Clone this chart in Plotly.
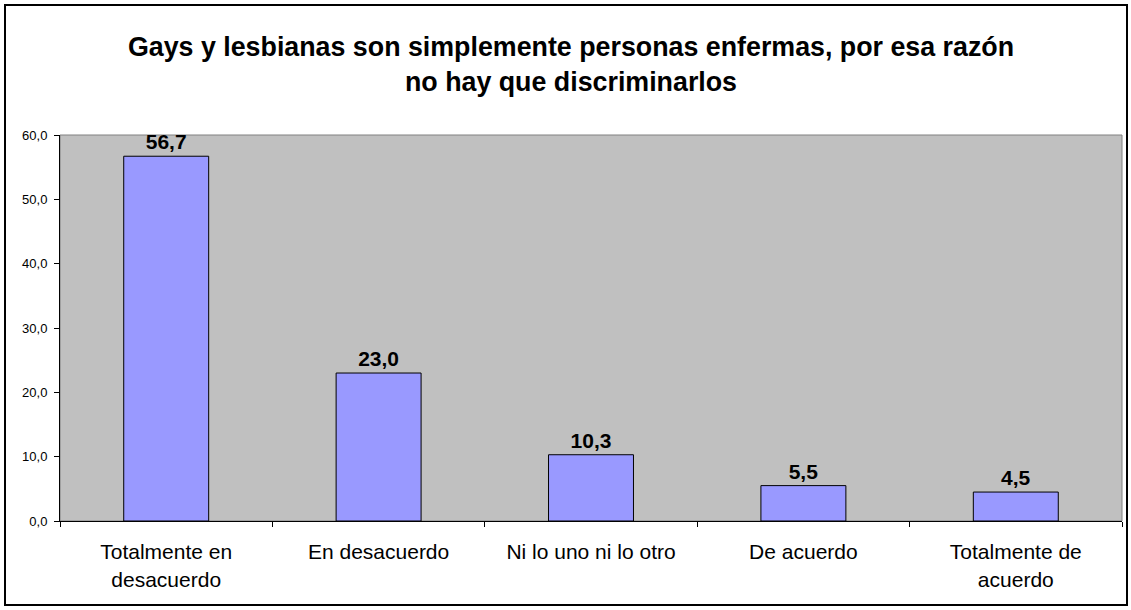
import plotly.graph_objects as go

categories = ["Totalmente en<br>desacuerdo", "En desacuerdo", "Ni lo uno ni lo otro",
              "De acuerdo", "Totalmente de<br>acuerdo"]
values = [56.7, 23.0, 10.3, 5.5, 4.5]
value_labels = ["56,7", "23,0", "10,3", "5,5", "4,5"]
y_tickvals = [0, 10, 20, 30, 40, 50, 60]
y_ticktext = ["0,0", "10,0", "20,0", "30,0", "40,0", "50,0", "60,0"]
title_text = ("Gays y lesbianas son simplemente personas enfermas, por esa razón<br>"
              "no hay que discriminarlos")

fig = go.Figure()
fig.add_trace(go.Bar(
    x=categories, y=values,
    text=value_labels, textposition="outside",
    textfont=dict(family="Liberation Sans, Arial", size=21, color="black", weight="bold"),
    marker=dict(color="#9999FF", line=dict(color="black", width=1)),
    width=0.4, cliponaxis=False,
))

fig.update_layout(
    width=1131, height=610,
    margin=dict(l=60, r=9, t=135, b=89),
    paper_bgcolor="white", plot_bgcolor="#C0C0C0",
    showlegend=False,
    font=dict(family="Liberation Sans, Arial", color="black"),
    title=dict(text="<b>" + title_text + "</b>", x=571 / 1131, xref="container", xanchor="center",
               y=1 - 56 / 610, yref="container", yanchor="middle",
               font=dict(size=26.8, color="black")),
    xaxis=dict(showline=True, linecolor="black", linewidth=1,
               ticks="outside", tickson="boundaries", ticklen=5, tickcolor="black",
               tickfont=dict(size=21), ticklabelstandoff=12, showgrid=False),
    yaxis=dict(range=[0, 60], tickvals=y_tickvals, ticktext=y_ticktext,
               showline=True, linecolor="black", linewidth=1,
               ticks="outside", ticklen=5, tickcolor="black",
               tickfont=dict(size=13), ticklabelstandoff=4,
               showgrid=False, zeroline=False),
    shapes=[
        dict(type="rect", xref="paper", yref="paper", x0=0, x1=1, y0=0, y1=1,
             line=dict(color="#808080", width=1), layer="below"),
        dict(type="rect", xref="paper", yref="paper",
             x0=-55 / 1062, x1=1 + 5 / 1062, y0=-84 / 386, y1=1 + 130 / 386,
             line=dict(color="black", width=2)),
    ],
)

fig.write_html("out.html", config={"displayModeBar": False},
               post_script="document.body.style.margin='0';document.body.style.overflow='hidden';")
